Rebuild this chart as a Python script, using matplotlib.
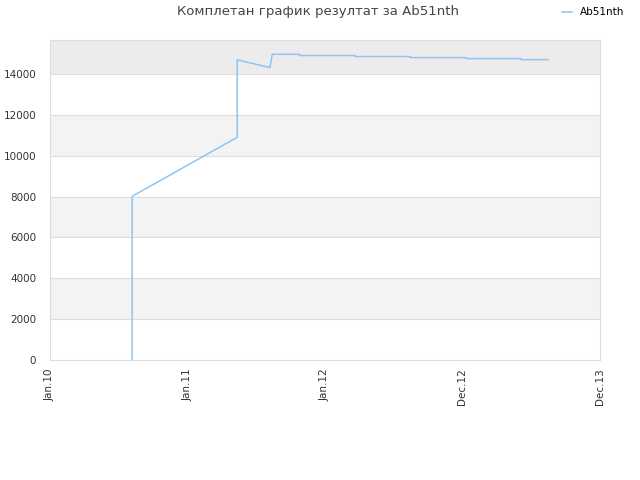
import matplotlib
matplotlib.use('Agg')
import matplotlib.pyplot as plt

# days since Jan 2010 (ticks spaced 365 days apart)
days = [218, 218, 222, 497, 497, 584, 584, 590, 662, 662, 810, 810, 956, 956, 1104, 1104, 1250, 1250, 1322]
scores = [0, 7990, 8050, 10900, 14690, 14310, 14330, 14960, 14960, 14900, 14900, 14850, 14850, 14800, 14800, 14750, 14750, 14700, 14700]

tick_days = [0, 365, 730, 1095, 1460]
tick_labels = ['Jan.10', 'Jan.11', 'Jan.12', 'Dec.12', 'Dec.13']
player = 'Ab51nth'

fig = plt.figure(figsize=(6.4, 4.8), dpi=100)
ax = fig.add_axes([50 / 640, 120 / 480, 550 / 640, 320 / 480])

ymax = 15660
# alternating bands
for lo in range(0, 16000, 2000):
    hi = min(lo + 2000, ymax)
    if lo >= 14000:
        c = '#ececec'
    elif (lo // 2000) % 2 == 1:
        c = '#f3f3f3'
    else:
        c = 'white'
    ax.axhspan(lo, hi, color=c, zorder=0, lw=0)
for y in range(2000, 16000, 2000):
    ax.axhline(y, color='#dddddd', lw=0.8, zorder=1)

ax.plot(days, scores, color='#90c4f2', lw=1.1, zorder=3, label=player)

ax.set_xlim(0, 1460)
ax.set_ylim(0, ymax)
ax.set_xticks(tick_days)
ax.set_xticklabels(tick_labels, rotation=90, fontsize=7.5, color='#333333')
ax.set_yticks(range(0, 16000, 2000))
ax.tick_params(axis='y', labelsize=7.5, colors='#333333', length=0, pad=10)
ax.tick_params(axis='x', length=0, pad=6)
for s in ax.spines.values():
    s.set_color('#dddddd')

fig.text(318 / 640, 1 - 12 / 480, 'Комплетан график резултат за ' + player,
         ha='center', va='center', fontsize=9.5, color='#444444')
ax.legend(loc='upper right', bbox_to_anchor=(632 / 640, 1.0), bbox_transform=fig.transFigure,
          frameon=False, fontsize=7.5, handlelength=1.0, borderaxespad=0.3)

fig.savefig('out.png', dpi=100)
